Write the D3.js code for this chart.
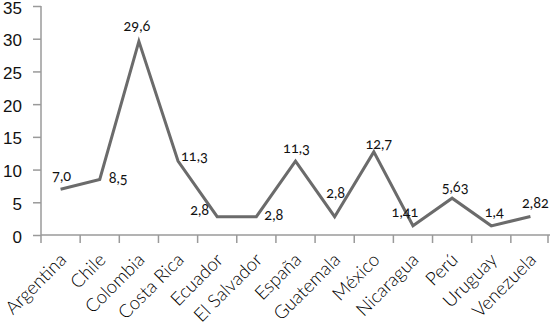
<!DOCTYPE html>
<html>
<head>
<meta charset="utf-8">
<script src="https://cdn.jsdelivr.net/npm/d3@7"></script>
<style>
  html, body { margin: 0; padding: 0; background: #fff; }
  svg { display: block; font-family: Lato, "Open Sans", sans-serif; font-variant-numeric: oldstyle-nums; }
</style>
</head>
<body>
<svg id="chart"></svg>
<script>
const countries = ["Argentina", "Chile", "Colombia", "Costa Rica", "Ecuador", "El Salvador", "España",
    "Guatemala", "México", "Nicaragua", "Perú", "Uruguay", "Venezuela"];
const values = [7.0, 8.5, 29.6, 11.3, 2.8, 2.8, 11.3, 2.8, 12.7, 1.41, 5.63, 1.4, 2.82];
const valueLabels = ["7,0", "8,5", "29,6", "11,3", "2,8", "2,8", "11,3", "2,8", "12,7", "1,41", "5,63", "1,4", "2,82"];
const yTicks = [0, 5, 10, 15, 20, 25, 30, 35];

(function () {
    const W = 550, H = 325;
    const svg = d3.select("#chart").attr("width", W).attr("height", H);

    const AXIS = "#9a9a9a";
    const LINE = "#6b6b6b";

    const x = d3.scaleBand().domain(countries).range([41, 550]);
    const y = d3.scaleLinear().domain([0, 35]).range([235, 6]);
    const cx = c => x(c) + x.bandwidth() / 2;

    // Y axis
    const ya = svg.append("g").attr("transform", "translate(41,0)")
        .call(d3.axisLeft(y).tickValues(yTicks).tickSize(8).tickPadding(11).tickFormat(d3.format("d")));
    ya.select(".domain").attr("stroke", AXIS).attr("stroke-width", 1.5).attr("d", `M0,${y(35)}V${y(0)}`);
    ya.selectAll(".tick line").attr("stroke", AXIS).attr("stroke-width", 1.5);
    ya.selectAll(".tick text").attr("font-size", 17).attr("fill", "#111").attr("font-family", null)
        .attr("dy", "0.42em");

    // X axis with ticks on band edges
    const xa = svg.append("g").attr("transform", `translate(0,${y(0)})`);
    xa.append("path").attr("stroke", AXIS).attr("stroke-width", 1.5).attr("fill", "none")
        .attr("d", `M41,0H550`);
    const edges = countries.map(c => x(c)).concat([x.range()[1] - 2]);
    xa.selectAll("line.tk").data(edges).join("line").attr("class", "tk")
        .attr("x1", d => d).attr("x2", d => d).attr("y1", 0).attr("y2", 8)
        .attr("stroke", AXIS).attr("stroke-width", 1.5);

    // Rotated category labels
    svg.append("g").selectAll("text.cat").data(countries).join("text").attr("class", "cat")
        .attr("transform", d => `translate(${cx(d) + 7},${y(0) + 26}) rotate(-45)`)
        .attr("text-anchor", "end")
        .attr("font-size", 18.5).attr("font-weight", 300).attr("fill", "#000")
        .text(d => d);

    // Line
    const pts = countries.map((c, i) => ({ c, v: values[i], lbl: valueLabels[i] }));
    svg.append("path").datum(pts)
        .attr("fill", "none").attr("stroke", LINE).attr("stroke-width", 3)
        .attr("stroke-linejoin", "miter")
        .attr("d", d3.line().x(d => cx(d.c)).y(d => y(d.v)));

    // Value label offsets (dx, dy, anchor) as placed in the source
    const offs = [
        [1, -8, "middle"], [9, 4, "start"], [-2, -10, "middle"], [3, 0, "start"],
        [-8, -2, "end"], [8, 3, "start"], [1, -8, "middle"], [1, -19, "middle"],
        [5, -3, "middle"], [-8, -9, "middle"], [3, -6, "middle"], [3, -9, "middle"], [5, -9, "middle"]
    ];
    svg.append("g").selectAll("text.val").data(pts).join("text").attr("class", "val")
        .attr("x", (d, i) => cx(d.c) + offs[i][0])
        .attr("y", (d, i) => y(d.v) + offs[i][1])
        .attr("text-anchor", (d, i) => offs[i][2])
        .attr("font-size", 14.5).attr("fill", "#111")
        .text(d => d.lbl);
})();
</script>
</body>
</html>
